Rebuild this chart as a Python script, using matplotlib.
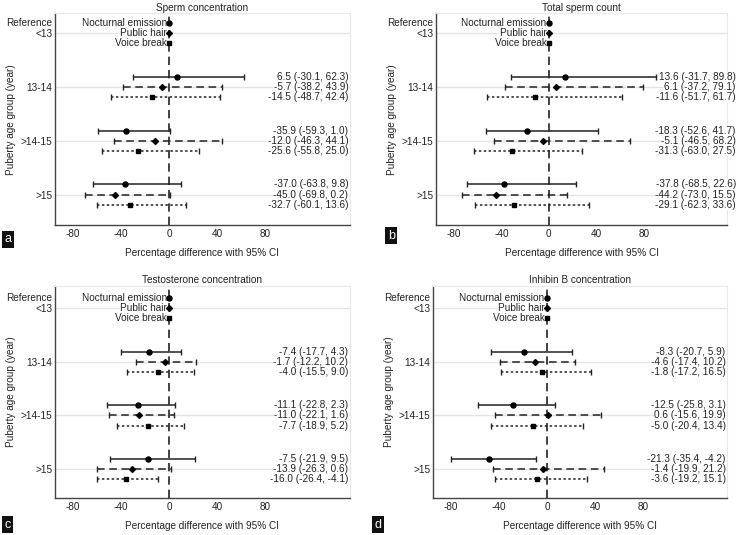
import matplotlib.pyplot as plt
import numpy as np

plt.rcParams['font.family'] = ['Liberation Sans', 'DejaVu Sans']
plt.rcParams['font.size'] = 7

# y categories (top to bottom) and the three puberty markers
groups = ["<13", "13-14", ">14-15", ">15"]
markers_names = ["Nocturnal emission", "Public hair", "Voice break"]

titles = ["Sperm concentration", "Total sperm count",
          "Testosterone concentration", "Inhibin B concentration"]
letters = ["a", "b", "c", "d"]

# plotted estimates / CIs for groups 13-14, >14-15, >15 (rows: nocturnal, pubic, voice)
est_a = [6.5, -5.7, -14.5, -35.9, -12.0, -25.6, -37.0, -45.0, -32.7]
lo_a = [-30.1, -38.2, -48.7, -59.3, -46.3, -55.8, -63.8, -69.8, -60.1]
hi_a = [62.3, 43.9, 42.4, 1.0, 44.1, 25.0, 9.8, 0.2, 13.6]
txt_a = ["6.5 (-30.1, 62.3)", "-5.7 (-38.2, 43.9)", "-14.5 (-48.7, 42.4)",
         "-35.9 (-59.3, 1.0)", "-12.0 (-46.3, 44.1)", "-25.6 (-55.8, 25.0)",
         "-37.0 (-63.8, 9.8)", "-45.0 (-69.8, 0.2)", "-32.7 (-60.1, 13.6)"]

est_b = [13.6, 6.1, -11.6, -18.3, -5.1, -31.3, -37.8, -44.2, -29.1]
lo_b = [-31.7, -37.2, -51.7, -52.6, -46.5, -63.0, -68.5, -73.0, -62.3]
hi_b = [89.8, 79.1, 61.7, 41.7, 68.2, 27.5, 22.6, 15.5, 33.6]
txt_b = ["13.6 (-31.7, 89.8)", "6.1 (-37.2, 79.1)", "-11.6 (-51.7, 61.7)",
         "-18.3 (-52.6, 41.7)", "-5.1 (-46.5, 68.2)", "-31.3 (-63.0, 27.5)",
         "-37.8 (-68.5, 22.6)", "-44.2 (-73.0, 15.5)", "-29.1 (-62.3, 33.6)"]

est_c = [-16.8, -3.9, -9.2, -25.7, -24.9, -17.9, -17.3, -31.3, -36.3]
lo_c = [-40.5, -27.9, -35.5, -52.0, -50.0, -43.3, -49.4, -59.8, -60.3]
hi_c = [9.8, 22.6, 20.4, 5.0, 3.6, 12.0, 21.2, 1.1, -9.5]
txt_c = ["-7.4 (-17.7, 4.3)", "-1.7 (-12.2, 10.2)", "-4.0 (-15.5, 9.0)",
         "-11.1 (-22.8, 2.3)", "-11.0 (-22.1, 1.6)", "-7.7 (-18.9, 5.2)",
         "-7.5 (-21.9, 9.5)", "-13.9 (-26.3, 0.6)", "-16.0 (-26.4, -4.1)"]

est_d = [-18.9, -10.3, -4.5, -28.4, 1.1, -12.0, -48.2, -3.3, -8.4]
lo_d = [-46.5, -39.3, -38.7, -57.7, -43.5, -46.5, -80.2, -44.8, -43.7]
hi_d = [21.2, 23.1, 37.0, 7.0, 44.8, 30.4, -9.5, 47.6, 33.4]
txt_d = ["-8.3 (-20.7, 5.9)", "-4.6 (-17.4, 10.2)", "-1.8 (-17.2, 16.5)",
         "-12.5 (-25.8, 3.1)", "0.6 (-15.6, 19.9)", "-5.0 (-20.4, 13.4)",
         "-21.3 (-35.4, -4.2)", "-1.4 (-19.9, 21.2)", "-3.6 (-19.2, 15.1)"]

panels = [(est_a, lo_a, hi_a, txt_a), (est_b, lo_b, hi_b, txt_b),
          (est_c, lo_c, hi_c, txt_c), (est_d, lo_d, hi_d, txt_d)]

# axes rectangles in figure fractions [left, bottom, width, height]
rects = [[0.0746, 0.579, 0.400, 0.396], [0.5916, 0.579, 0.395, 0.396],
         [0.0746, 0.069, 0.400, 0.396], [0.5875, 0.069, 0.399, 0.396]]
ylims = [(3.57, -0.37), (3.57, -0.37), (3.54, -0.41), (3.54, -0.41)]
text_x = [0.995, 1.03, 0.995, 0.995]
letter_pos = [(0.006, 0.542), (0.526, 0.548), (0.006, 0.008), (0.508, 0.008)]

styles = ['-', (0, (5, 3)), (0, (1.6, 1.6))]
mk = ['o', 'D', 's']
mks = [3.6, 3.0, 3.4]
offs = [-0.19, 0.0, 0.19]
fs = 7.2

fig = plt.figure(figsize=(7.37, 5.35), dpi=100)

for p, (est, lo, hi, txt) in enumerate(panels):
    ax = fig.add_axes(rects[p])
    ax.set_xlim(-95, 150)
    ax.set_ylim(*ylims[p])

    # reference group at 0
    for r in range(3):
        y = 0 + offs[r]
        ax.plot(0, y, marker=mk[r], ms=mks[r], color='black', zorder=4)
        ax.text(-2.0, y, markers_names[r], ha='right', va='center', fontsize=fs,
                color='#222222', zorder=3,
                bbox=dict(facecolor='white', edgecolor='none', pad=0.2))
    ax.text(-0.01, 0 + offs[0], "Reference", ha='right', va='center', fontsize=fs,
            color='#222222', transform=ax.get_yaxis_transform())

    for g in range(3):
        for r in range(3):
            i = g * 3 + r
            y = g + 1 + offs[r]
            e = est[i]
            eb = ax.errorbar(e, y, xerr=[[e - lo[i]], [hi[i] - e]], fmt=mk[r], ms=mks[r],
                             color='black', ecolor='#222222', elinewidth=1.1,
                             capsize=2.5, capthick=1.0, zorder=4)
            eb[2][0].set_linestyle(styles[r])
            ax.text(text_x[p], y, txt[i], ha='right', va='center', fontsize=fs,
                    color='#222222', transform=ax.get_yaxis_transform(), zorder=3,
                    clip_on=False,
                    bbox=dict(facecolor='white', edgecolor='none', pad=0.2))

    ax.axvline(0, color='#222222', linestyle=(0, (5, 3)), linewidth=1.2, zorder=2)

    ax.set_yticks(range(len(groups)))
    ax.set_yticklabels(groups, fontsize=fs, color='#222222')
    ax.set_xticks([-80, -40, 0, 40, 80])
    ax.set_xticklabels(['-80', '-40', '0', '40', '80'], fontsize=fs, color='#222222')
    ax.tick_params(axis='x', length=0, pad=3)
    ax.tick_params(axis='y', length=0, pad=2)
    ax.grid(axis='y', color='#e4e4e4', linewidth=1.0)
    ax.set_axisbelow(True)

    for s in ['top', 'right']:
        ax.spines[s].set_color('#e8e8e8')
    for s in ['left', 'bottom']:
        ax.spines[s].set_color('#444444')
        ax.spines[s].set_linewidth(1.0)

    ax.set_title(titles[p], fontsize=fs, pad=2, color='#222222')
    ax.set_xlabel('Percentage difference with 95% CI', fontsize=fs, labelpad=6,
                  color='#222222')
    ax.set_ylabel('Puberty age group (year)', fontsize=fs, color='#222222', labelpad=3)

    fig.text(letter_pos[p][0], letter_pos[p][1], letters[p], color='white',
             fontsize=9, ha='left', va='bottom',
             bbox=dict(facecolor='#111111', edgecolor='none', pad=1.8))

fig.savefig('out.png', dpi=100, facecolor='white')
